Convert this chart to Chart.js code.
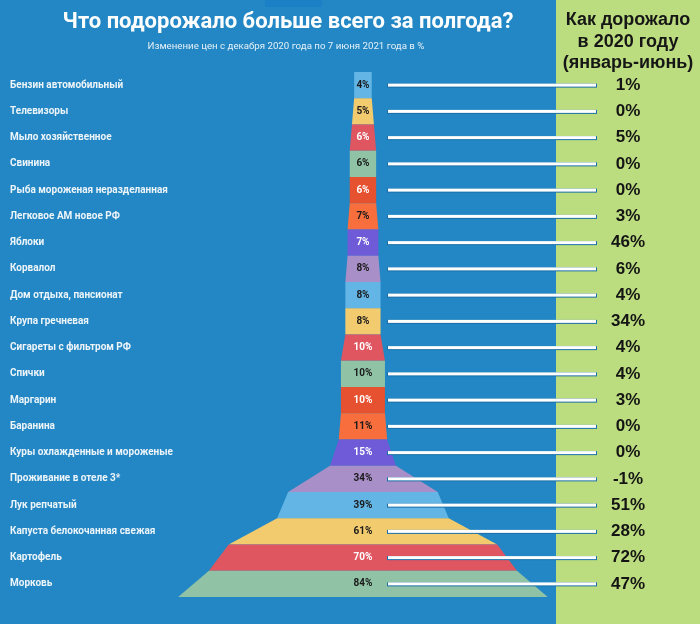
<!DOCTYPE html>
<html>
<head>
<meta charset="utf-8">
<script src="https://cdn.jsdelivr.net/npm/chart.js@4"></script>
<style>
  html, body { margin: 0; padding: 0; background: #2287c4; }
  #wrap { width: 700px; height: 624px; }
</style>
</head>
<body>
<div id="wrap"><canvas id="chart" width="700" height="624"></canvas></div>
<script>
// data
var categories = [
    "Бензин автомобильный", "Телевизоры", "Мыло хозяйственное", "Свинина",
    "Рыба мороженая неразделанная", "Легковое АМ новое РФ", "Яблоки", "Корвалол",
    "Дом отдыха, пансионат", "Крупа гречневая", "Сигареты с фильтром РФ", "Спички",
    "Маргарин", "Баранина", "Куры охлажденные и мороженые", "Проживание в отеле 3*",
    "Лук репчатый", "Капуста белокочанная свежая", "Картофель", "Морковь"
];
var values2021 = [4, 5, 6, 6, 6, 7, 7, 8, 8, 8, 10, 10, 10, 11, 15, 34, 39, 61, 70, 84];
var values2020 = ["1%", "0%", "5%", "0%", "0%", "3%", "46%", "6%", "4%", "34%",
                  "4%", "4%", "3%", "0%", "0%", "-1%", "51%", "28%", "72%", "47%"];

var palette = ["#62b5e5", "#f2cb6e", "#df5560", "#90c3a6", "#e6512f", "#f86e3d", "#6f5ad8", "#a98fc7"];
var lightText = [false, false, true, false, true, false, true, false];

// background, titles, funnel, connector lines
var decor = {
    id: 'decor',
    beforeDraw: function(chart){
        var ctx = chart.ctx;
        ctx.save();
        ctx.fillStyle = '#2287c4';
        ctx.fillRect(0, 0, 700, 624);
        ctx.fillStyle = '#1b80c6';
        ctx.fillRect(265, 0, 57, 7);
        ctx.fillStyle = '#bcdd7f';
        ctx.fillRect(556, 0, 144, 624);

        ctx.textAlign = 'center';
        ctx.textBaseline = 'middle';
        ctx.fillStyle = '#ffffff';
        ctx.font = 'bold 22px Roboto';
        ctx.fillText('Что подорожало больше всего за полгода?', 288, 22);
        ctx.font = '9.7px Roboto';
        ctx.fillStyle = '#e6f0f8';
        ctx.fillText('Изменение цен с декабря 2020 года по 7 июня 2021 года в %', 286, 47);

        ctx.fillStyle = '#161616';
        ctx.font = 'bold 18px "Liberation Sans"';
        ctx.fillText('Как дорожало', 628, 20);
        ctx.fillText('в 2020 году', 628, 42);
        ctx.fillText('(январь-июнь)', 628, 63);
        ctx.restore();
    },
    beforeDatasetsDraw: function(chart){
        var ctx = chart.ctx;
        var x = chart.scales.x, y = chart.scales.y;
        var step = y.getPixelForValue(1) - y.getPixelForValue(0);
        ctx.save();
        for (var i = 0; i < values2021.length; i++){
            var v = values2021[i];
            var prev = i > 0 ? values2021[i - 1] : v;
            var yc = y.getPixelForValue(i);
            var top = yc - step / 2, bottom = yc + step / 2;
            ctx.beginPath();
            ctx.moveTo(x.getPixelForValue(-prev / 2), top);
            ctx.lineTo(x.getPixelForValue(prev / 2), top);
            ctx.lineTo(x.getPixelForValue(v / 2), bottom);
            ctx.lineTo(x.getPixelForValue(-v / 2), bottom);
            ctx.closePath();
            ctx.fillStyle = palette[i % palette.length];
            ctx.fill();
        }
        ctx.restore();
    },
    afterDatasetsDraw: function(chart){
        var ctx = chart.ctx;
        var x = chart.scales.x, y = chart.scales.y;
        ctx.save();
        ctx.textAlign = 'center';
        ctx.textBaseline = 'middle';
        ctx.font = 'bold 10px Roboto';
        for (var i = 0; i < values2021.length; i++){
            var yc = y.getPixelForValue(i);
            ctx.fillStyle = lightText[i % palette.length] ? '#ffffff' : '#1a1a1a';
            ctx.fillText(values2021[i] + '%', x.getPixelForValue(0), yc);

            ctx.fillStyle = '#1a6fa8';
            ctx.fillRect(387, yc - 1.5, 210, 4);
            ctx.fillStyle = '#ffffff';
            ctx.fillRect(388, yc - 1.5, 208, 3);
        }
        ctx.restore();
    }
};

new Chart(document.getElementById('chart').getContext('2d'), {
    type: 'bar',
    data: {
        labels: categories,
        datasets: [{
            label: 'Изменение цен, %',
            data: values2021.map(function(v){ return [-v / 2, v / 2]; }),
            backgroundColor: 'rgba(0,0,0,0)',
            barPercentage: 1,
            categoryPercentage: 1
        }]
    },
    plugins: [decor],
    options: {
        indexAxis: 'y',
        responsive: false,
        animation: false,
        layout: { padding: { left: 10, right: 0, top: 72, bottom: 27 } },
        plugins: {
            legend: { display: false },
            tooltip: { enabled: false }
        },
        scales: {
            x: { display: false, min: -39.3, max: 42.05 },
            y: {
                position: 'left',
                offset: true,
                grid: { display: false, drawTicks: false },
                border: { display: false },
                ticks: {
                    autoSkip: false,
                    crossAlign: 'far',
                    padding: 0,
                    color: '#edf4fa',
                    font: { family: 'Roboto', size: 10, weight: 'bold' }
                },
                afterFit: function(s){ s.width = 180; s.paddingTop = 0; s.paddingBottom = 0; }
            },
            y2: {
                type: 'category',
                axis: 'y',
                position: 'right',
                labels: values2020,
                offset: true,
                grid: { display: false, drawTicks: false },
                border: { display: false },
                ticks: {
                    autoSkip: false,
                    crossAlign: 'center',
                    padding: 63,
                    color: '#141414',
                    font: { family: 'Liberation Sans', size: 17, weight: 'bold' }
                },
                afterFit: function(s){ s.width = 152; s.paddingTop = 0; s.paddingBottom = 0; }
            }
        }
    }
});
</script>
</body>
</html>
